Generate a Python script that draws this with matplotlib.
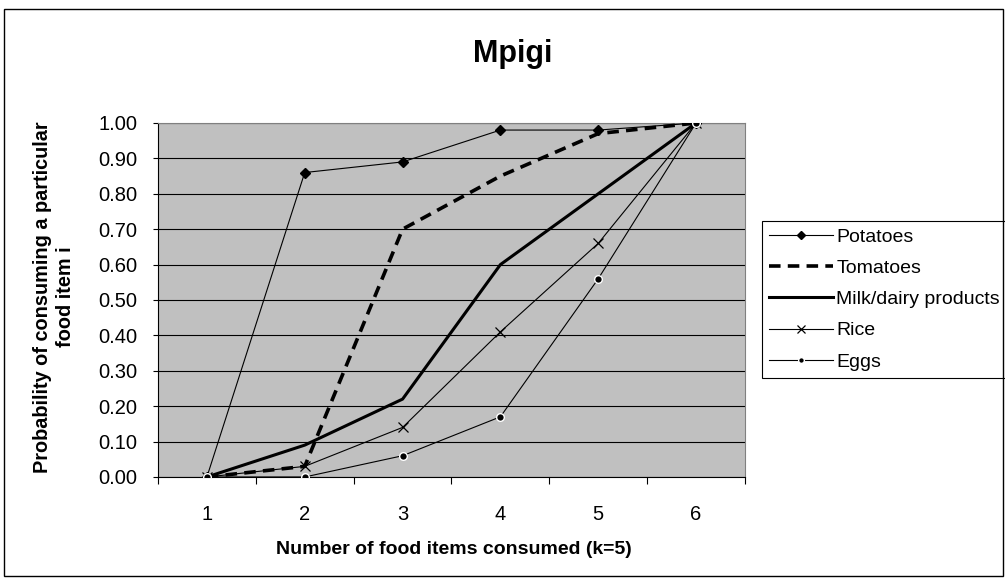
import matplotlib.pyplot as plt
from matplotlib.patches import Rectangle

plt.rcParams['font.family'] = ['Liberation Sans', 'DejaVu Sans']

items = ["1", "2", "3", "4", "5", "6"]
potatoes = [0.00, 0.86, 0.89, 0.98, 0.98, 1.00]
tomatoes = [0.00, 0.03, 0.70, 0.85, 0.97, 1.00]
milk = [0.00, 0.09, 0.22, 0.60, 0.80, 1.00]
rice = [0.00, 0.03, 0.14, 0.41, 0.66, 1.00]
eggs = [0.00, 0.00, 0.06, 0.17, 0.56, 1.00]

x = list(range(len(items)))

fig = plt.figure(figsize=(10.05, 5.79), dpi=100)
ax = fig.add_axes([0.1572, 0.1762, 0.5841, 0.6114])
ax.set_facecolor("#c0c0c0")

ax.plot(x, potatoes, color="black", lw=0.8, marker="D", ms=5.5, label="Potatoes", zorder=5)
ax.plot(x, tomatoes, color="black", lw=2.6, ls=(0, (3.2, 2)), label="Tomatoes", zorder=4)
ax.plot(x, milk, color="black", lw=2.2, label="Milk/dairy products", zorder=4)
ax.plot(x, rice, color="black", lw=0.8, marker="x", ms=7.5, mew=0.9, label="Rice", zorder=5)
ax.plot(x, eggs, color="black", lw=0.8, marker="o", ms=5.5, mec="white", mew=1,
        label="Eggs", zorder=6)

ax.set_xlim(-0.5, 5.5)
ax.set_ylim(0, 1)
ax.set_yticks([i / 10 for i in range(11)])
ax.set_yticklabels([f"{i / 10:.2f}" for i in range(11)], fontsize=14.5)
ax.yaxis.grid(True, color="black", lw=0.8)
ax.set_axisbelow(True)
ax.tick_params(axis="y", direction="out", length=3.6, width=0.8, pad=11)

ax.set_xticks(x)
ax.set_xticklabels(items, fontsize=14.5)
ax.set_xticks([i - 0.5 for i in range(len(items) + 1)], minor=True)
ax.tick_params(axis="x", which="major", length=0, pad=20)
ax.tick_params(axis="x", which="minor", direction="out", length=5, width=0.8)

for side in ["top", "right"]:
    ax.spines[side].set_color("#808080")
for side in ["left", "bottom"]:
    ax.spines[side].set_color("black")
    ax.spines[side].set_linewidth(0.8)

fig.text(453.5 / 1005, 1 - 549 / 579, "Number of food items consumed (k=5)",
         fontsize=14, fontweight="bold", ha="center", va="center")
fig.text(54 / 1005, 1 - 297 / 579, "Probability of consuming a particular\nfood item i",
         fontsize=14.3, fontweight="bold", ha="center", va="center", rotation=90,
         multialignment="center", linespacing=1.3)
fig.text(513 / 1005, 1 - 62 / 579, "Mpigi", fontsize=22, fontweight="bold",
         ha="center", va="baseline")

leg = ax.legend(loc="upper left", bbox_to_anchor=(762 / 1005, 1 - 221 / 579),
                bbox_transform=fig.transFigure, fontsize=14,
                frameon=True, fancybox=False, edgecolor="black", framealpha=1,
                numpoints=1, handlelength=3.3, handletextpad=0.15, borderpad=0.37,
                labelspacing=0.7, borderaxespad=0, markerscale=0.75)
leg.get_frame().set_linewidth(0.8)

fig.patches.append(Rectangle((0.004, 0.005), 0.994, 0.98, transform=fig.transFigure,
                             fill=False, edgecolor="black", lw=1))

plt.savefig("out.png", dpi=100)
plt.close()
